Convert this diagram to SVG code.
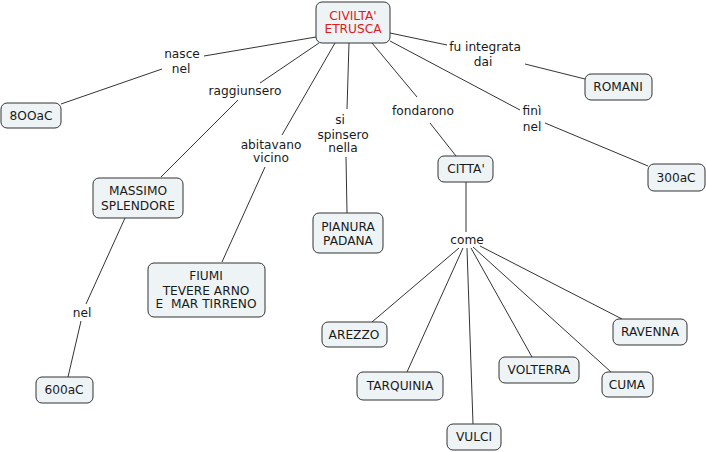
<svg xmlns="http://www.w3.org/2000/svg" width="706" height="452" viewBox="0 0 706 452">
<style>
.bg{fill:#ffffff}
.node rect{fill:#eef3f5;stroke:#333333;stroke-width:1}
text{font-family:"DejaVu Sans",Verdana,sans-serif;font-size:12.2px;fill:#1a1a1a;text-anchor:middle}
.red{fill:#e01b1b}
#connectors line{stroke:#333333;stroke-width:1}
</style>
<rect class="bg" x="0" y="0" width="706" height="452"/>
<g id="connectors">
<line x1="316" y1="37" x2="204" y2="56"/>
<line x1="162" y1="69" x2="61" y2="104"/>
<line x1="319" y1="43" x2="260" y2="83"/>
<line x1="238" y1="100" x2="161" y2="177"/>
<line x1="335" y1="43" x2="282" y2="135"/>
<line x1="265" y1="167" x2="222" y2="262"/>
<line x1="349" y1="43" x2="347" y2="109"/>
<line x1="346" y1="157" x2="347" y2="213"/>
<line x1="372" y1="43" x2="417" y2="97"/>
<line x1="430" y1="123" x2="456" y2="156"/>
<line x1="390" y1="33" x2="447" y2="45"/>
<line x1="525" y1="64" x2="585" y2="79"/>
<line x1="390" y1="41" x2="520" y2="110"/>
<line x1="545" y1="123" x2="648" y2="166"/>
<line x1="466" y1="182" x2="466" y2="232"/>
<line x1="459" y1="248" x2="372" y2="322"/>
<line x1="463" y1="248" x2="407" y2="372"/>
<line x1="467" y1="248" x2="473" y2="424"/>
<line x1="471" y1="248" x2="532" y2="357"/>
<line x1="473" y1="247" x2="611" y2="372"/>
<line x1="480" y1="246" x2="622" y2="319"/>
<line x1="125" y1="218" x2="86" y2="304"/>
<line x1="81" y1="321" x2="68" y2="377"/>
</g>
<g id="civilta" class="node"><rect x="316" y="2" width="74" height="41" rx="6"/><text class="red" x="353" y="20">CIVILTA'</text><text class="red" x="353" y="33">ETRUSCA</text></g>
<g id="l-nasce"><text x="182" y="58">nasce</text><text x="181" y="73">nel</text></g>
<g id="n800" class="node"><rect x="1" y="103" width="60" height="25" rx="6"/><text x="31" y="120">8OOaC</text></g>
<g id="l-raggiunsero"><text x="245" y="95">raggiunsero</text></g>
<g id="massimo" class="node"><rect x="93" y="178" width="90" height="40" rx="6"/><text x="138" y="195">MASSIMO</text><text x="138" y="210">SPLENDORE</text></g>
<g id="l-nel2"><text x="82" y="317">nel</text></g>
<g id="n600" class="node"><rect x="36" y="377" width="57" height="26" rx="6"/><text x="64" y="394">600aC</text></g>
<g id="l-abitavano"><text x="271" y="149">abitavano</text><text x="271" y="162">vicino</text></g>
<g id="fiumi" class="node"><rect x="148" y="263" width="117" height="54" rx="6"/><text x="206" y="280">FIUMI</text><text x="206" y="295">TEVERE ARNO</text><text x="206" y="308" xml:space="preserve">E  MAR TIRRENO</text></g>
<g id="l-spinsero"><text x="340" y="124">si</text><text x="343" y="139">spinsero</text><text x="343" y="152">nella</text></g>
<g id="pianura" class="node"><rect x="313" y="213" width="70" height="40" rx="6"/><text x="348" y="231">PIANURA</text><text x="348" y="245">PADANA</text></g>
<g id="l-fondarono"><text x="423" y="115">fondarono</text></g>
<g id="citta" class="node"><rect x="438" y="156" width="55" height="26" rx="6"/><text x="466" y="173">CITTA'</text></g>
<g id="l-fu"><text x="485" y="51">fu integrata</text><text x="483" y="66">dai</text></g>
<g id="romani" class="node"><rect x="585" y="74" width="67" height="26" rx="6"/><text x="618" y="91">ROMANI</text></g>
<g id="l-fini"><text x="532" y="115">finì</text><text x="532" y="131">nel</text></g>
<g id="n300" class="node"><rect x="648" y="164" width="57" height="27" rx="6"/><text x="676" y="182">300aC</text></g>
<g id="l-come"><text x="467" y="244">come</text></g>
<g id="arezzo" class="node"><rect x="322" y="322" width="65" height="25" rx="6"/><text x="354" y="339">AREZZO</text></g>
<g id="tarquinia" class="node"><rect x="357" y="372" width="86" height="28" rx="6"/><text x="400" y="390">TARQUINIA</text></g>
<g id="vulci" class="node"><rect x="447" y="424" width="54" height="26" rx="6"/><text x="474" y="441">VULCI</text></g>
<g id="volterra" class="node"><rect x="499" y="357" width="80" height="26" rx="6"/><text x="539" y="374">VOLTERRA</text></g>
<g id="cuma" class="node"><rect x="602" y="372" width="51" height="25" rx="6"/><text x="627" y="389">CUMA</text></g>
<g id="ravenna" class="node"><rect x="613" y="319" width="74" height="26" rx="6"/><text x="650" y="336">RAVENNA</text></g>
</svg>
